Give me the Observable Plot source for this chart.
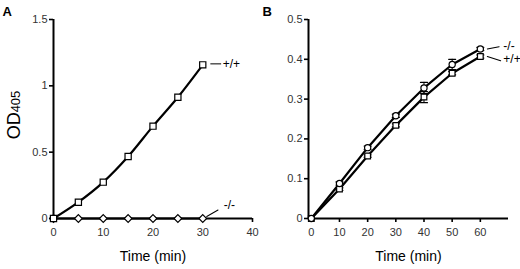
<!DOCTYPE html>
<html><head><meta charset="utf-8">
<script src="https://cdn.jsdelivr.net/npm/d3@7"></script>
<script src="https://cdn.jsdelivr.net/npm/@observablehq/plot@0.6"></script>
<style>
body{margin:0;background:#fff;}
#wrap{display:flex;width:520px;height:269px;}
#wrap svg{display:block;}
</style></head><body><div id="wrap"></div>
<script>
// ---- data ----
const timeA = [0, 5, 10, 15, 20, 25, 30];
const wtA = [0, 0.123, 0.274, 0.467, 0.696, 0.914, 1.158];
const koA = [0, 0, 0, 0, 0, 0, 0];
const timeB = [0, 10, 20, 30, 40, 50, 60];
const koB = [0, 0.088, 0.178, 0.258, 0.328, 0.387, 0.426];
const koBerr = [0, 0.004, 0.004, 0.004, 0.014, 0.013, 0.004];
const wtB = [0, 0.074, 0.157, 0.234, 0.305, 0.365, 0.407];
const wtBerr = [0, 0.003, 0.003, 0.004, 0.014, 0.004, 0.004];
const xTicksA = [0, 10, 20, 30, 40];
const yTicksA = [0, 0.5, 1, 1.5];
const xTicksB = [0, 10, 20, 30, 40, 50, 60];
const yTicksB = [0, 0.1, 0.2, 0.3, 0.4, 0.5];
const seriesWT = "+/+";
const seriesKO = "-/-";
const xLabel = "Time (min)";
const yLabelMain = "OD";
const yLabelSub = "405";
const panelA = "A";
const panelB = "B";

const FONT = "'Liberation Sans', Arial, Helvetica, sans-serif";
const rows = (t, y, e) => t.map((d, i) => ({t: d, y: y[i], e: e ? e[i] : 0}));
const leader = {draw(ctx, l) { ctx.moveTo(0, 0); ctx.lineTo(0, -l); }};
const fmt = d => String(d);

function axes(xTicks, yTicks) {
  return [
    Plot.axisX({ticks: xTicks, tickSize: 4, tickPadding: 6, tickFormat: fmt, fontSize: 11, fill: "#333", strokeWidth: 1.6, label: null}),
    Plot.axisY({ticks: yTicks, tickSize: 4, tickPadding: 2, tickFormat: fmt, fontSize: 11, fill: "#333", strokeWidth: 1.6, label: null})
  ];
}

// ---- Panel A ----
const dA_wt = rows(timeA, wtA);
const dA_ko = rows(timeA, koA);
const lastA_wt = [dA_wt[dA_wt.length - 1]];
const lastA_ko = [dA_ko[dA_ko.length - 1]];
const plotA = Plot.plot({
  width: 260, height: 269,
  marginLeft: 53, marginRight: 8, marginTop: 19, marginBottom: 51,
  style: {fontFamily: FONT, background: "white", color: "black"},
  x: {domain: [0, 40]},
  y: {domain: [0, 1.5]},
  marks: [
    ...axes(xTicksA, yTicksA),
    Plot.ruleY([0], {strokeWidth: 2}),
    Plot.ruleX([0], {strokeWidth: 2}),
    Plot.line(dA_ko, {x: "t", y: "y", strokeWidth: 2}),
    Plot.line(dA_wt, {x: "t", y: "y", strokeWidth: 2.2, curve: "monotone-x"}),
    Plot.dot(dA_ko, {x: "t", y: "y", symbol: "diamond2", r: 3.5, fill: "white", stroke: "black", strokeWidth: 1.2}),
    Plot.dot(dA_wt, {x: "t", y: "y", symbol: "square", r: 3.5, fill: "white", stroke: "black", strokeWidth: 1.2}),
    Plot.vector(lastA_wt, {x: "t", y: "y", anchor: "start", length: 10, rotate: 90, dx: 8, dy: -1, shape: leader, stroke: "black", strokeWidth: 1}),
    Plot.text(lastA_wt, {x: "t", y: "y", text: () => seriesWT, dx: 20, dy: -1, textAnchor: "start", fontSize: 12}),
    Plot.vector(lastA_ko, {x: "t", y: "y", anchor: "start", length: 13, rotate: 60, dx: 4, dy: -2, shape: leader, stroke: "black", strokeWidth: 1}),
    Plot.text(lastA_ko, {x: "t", y: "y", text: () => seriesKO, dx: 21, dy: -13, textAnchor: "start", fontSize: 12}),
    Plot.text([xLabel], {frameAnchor: "bottom", dy: 42, fontSize: 14}),
    Plot.text([panelA], {frameAnchor: "top-left", dx: -51, dy: -13, textAnchor: "start", fontSize: 13, fontWeight: "bold"})
  ]
});

// y label with subscript
const ylab = d3.select(plotA).append("text")
  .attr("transform", "translate(20,115) rotate(-90)")
  .attr("text-anchor", "middle")
  .attr("font-family", FONT)
  .attr("fill", "black");
ylab.append("tspan").attr("font-size", 18).text(yLabelMain);
ylab.append("tspan").attr("font-size", 13).text(yLabelSub);

// ---- Panel B ----
const dB_wt = rows(timeB, wtB, wtBerr);
const dB_ko = rows(timeB, koB, koBerr);
const lastB_wt = [dB_wt[dB_wt.length - 1]];
const lastB_ko = [dB_ko[dB_ko.length - 1]];
const xDomB = [-1, 70];
const errMarks = (d) => {
  const e = d.filter(r => r.e > 0);
  return [
    Plot.ruleX(e, {x: "t", y1: r => r.y - r.e, y2: r => r.y + r.e, strokeWidth: 1}),
    Plot.vector(e, {x: "t", y: r => r.y + r.e, anchor: "middle", rotate: 90, length: 7, shape: leader, stroke: "black", strokeWidth: 1.2}),
    Plot.vector(e, {x: "t", y: r => r.y - r.e, anchor: "middle", rotate: 90, length: 7, shape: leader, stroke: "black", strokeWidth: 1.2})
  ];
};
const plotB = Plot.plot({
  width: 260, height: 269,
  marginLeft: 48, marginRight: 12, marginTop: 19, marginBottom: 51,
  style: {fontFamily: FONT, background: "white", color: "black"},
  x: {domain: xDomB},
  y: {domain: [0, 0.5]},
  marks: [
    ...axes(xTicksB, yTicksB),
    Plot.ruleY([0], {strokeWidth: 2}),
    Plot.ruleX([xDomB[0]], {strokeWidth: 2}),
    ...errMarks(dB_ko),
    ...errMarks(dB_wt),
    Plot.line(dB_wt, {x: "t", y: "y", strokeWidth: 2.2}),
    Plot.line(dB_ko, {x: "t", y: "y", strokeWidth: 2.2}),
    Plot.dot(dB_wt, {x: "t", y: "y", symbol: "square", r: 3.2, fill: "white", stroke: "black", strokeWidth: 1.2}),
    Plot.dot(dB_ko, {x: "t", y: "y", symbol: "circle", r: 3.1, fill: "white", stroke: "black", strokeWidth: 1.2}),
    Plot.vector(lastB_ko, {x: "t", y: "y", anchor: "start", length: 12, rotate: 79, dx: 7, dy: 0, shape: leader, stroke: "black", strokeWidth: 1}),
    Plot.text(lastB_ko, {x: "t", y: "y", text: () => seriesKO, dx: 23, dy: -3, textAnchor: "start", fontSize: 12}),
    Plot.vector(lastB_wt, {x: "t", y: "y", anchor: "start", length: 14, rotate: 108, dx: 7, dy: 0, shape: leader, stroke: "black", strokeWidth: 1}),
    Plot.text(lastB_wt, {x: "t", y: "y", text: () => seriesWT, dx: 23, dy: 3, textAnchor: "start", fontSize: 12}),
    Plot.text([xLabel], {frameAnchor: "bottom", dy: 42, fontSize: 14}),
    Plot.text([panelB], {frameAnchor: "top-left", dx: -46, dy: -13, textAnchor: "start", fontSize: 13, fontWeight: "bold"})
  ]
});

const wrap = document.getElementById("wrap");
wrap.appendChild(plotA);
wrap.appendChild(plotB);
</script>
</body></html>
